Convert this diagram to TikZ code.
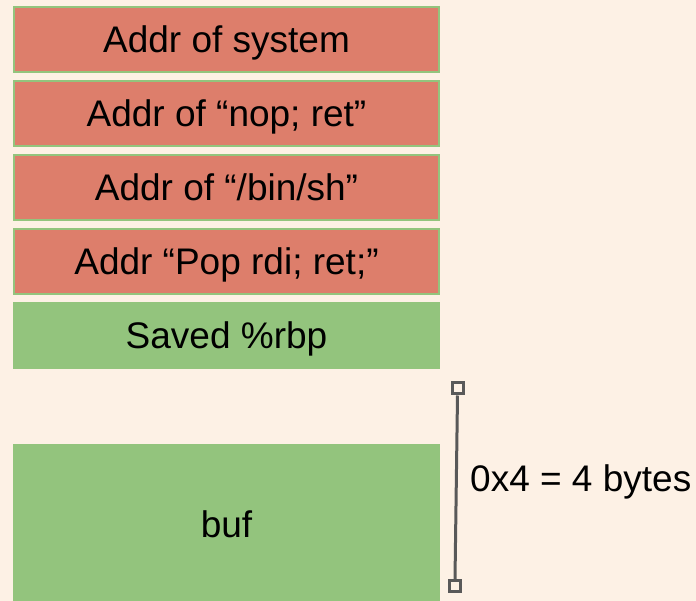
\documentclass[tikz,border=0pt]{standalone}
\usepackage{fontspec}
\setmainfont{Liberation Sans}
\definecolor{bgcream}{HTML}{FDF1E5}
\definecolor{slotred}{HTML}{DD7E6B}
\definecolor{slotgreen}{HTML}{93C47D}
\definecolor{rulegray}{HTML}{595959}
\begin{document}
\begin{tikzpicture}[x=1pt,y=-1pt,
  bigtext/.style={font=\fontsize{37}{42}\selectfont, text height=26.6pt, text depth=0pt},
  slot/.style={draw=slotgreen, line width=2pt, minimum width=425pt, minimum height=65pt,
    inner sep=0pt, bigtext, text=black},
  redslot/.style={slot, fill=slotred},
  greenslot/.style={slot, fill=slotgreen},
  endmark/.style={draw=rulegray, fill=bgcream, line width=3pt, minimum size=11pt, inner sep=0pt},
  dimlabel/.style={font=\fontsize{37}{42}\selectfont, anchor=base west, inner sep=0pt}]
  % page background
  \fill[bgcream] (0,0) rectangle (696,601);
  \useasboundingbox (0,0) rectangle (696,601);
  % stack slots, top to bottom
  \node[redslot]   (sys)  at (226.5,39.5)  {Addr of system};
  \node[redslot]   (nop)  at (226.5,113.5) {Addr of “nop; ret”};
  \node[redslot]   (bin)  at (226.5,187.5) {Addr of “/bin/sh”};
  \node[redslot]   (pop)  at (226.5,261.5) {Addr “Pop rdi; ret;”};
  \node[greenslot] (rbp)  at (226.5,335.5) {Saved \%rbp};
  % buffer runs off the bottom edge
  \fill[slotgreen] (13,444) rectangle (440,601);
  \node[bigtext] (buf) at (226.5,524) {buf};
  % size marker
  \node[endmark] (mtop) at (457.5,388.5) {};
  \node[endmark] (mbot) at (455,586) {};
  \draw[rulegray, line width=3pt] (mtop.south) -- (mbot.north);
  \node[dimlabel] (size) at (470,491.5) {0x4 = 4 bytes};
\end{tikzpicture}
\end{document}
